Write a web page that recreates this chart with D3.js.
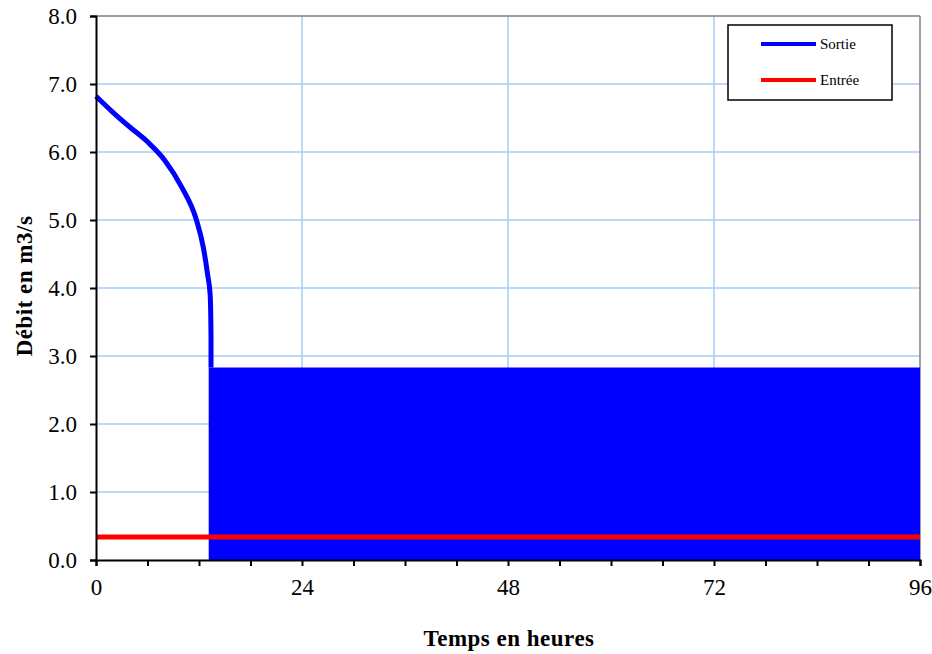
<!DOCTYPE html>
<html>
<head>
<meta charset="utf-8">
<script src="https://cdn.jsdelivr.net/npm/d3@7"></script>
<style>
  html, body { margin: 0; padding: 0; background: #fff; }
  svg { display: block; }
  svg text { font-family: "Liberation Serif", "Times New Roman", Times, serif !important; }
</style>
</head>
<body>
<svg id="chart" width="932" height="654"></svg>
<script>
// ---- Data ----
const xTicks = [0, 24, 48, 72, 96];
const xMinorTicks = [0, 6, 12, 18, 24, 30, 36, 42, 48, 54, 60, 66, 72, 78, 84, 90, 96];
const yTicks = [0, 1, 2, 3, 4, 5, 6, 7, 8];

// Sortie: initial decreasing discharge
const sortieHours  = [0, 2, 4, 6, 8, 10, 11.7, 12.5, 13.0, 13.3, 13.4, 13.4];
const sortieValues = [6.82, 6.58, 6.36, 6.15, 5.88, 5.48, 5.0, 4.6, 4.2, 3.9, 3.3, 2.83];

// Sortie afterwards: dense oscillation between a low and a high value (envelope)
const oscHours = [13.13, 96];
const oscLow   = [0, 0];
const oscHigh  = [2.83, 2.83];

// Entrée: constant inflow
const entreeHours  = [0, 96];
const entreeValues = [0.34, 0.34];

const seriesNames = ["Sortie", "Entrée"];
const seriesColors = ["#0000ff", "#ff0000"];

// ---- Layout ----
const svg = d3.select("#chart");
const mLeft = 96, mRight = 920, mTop = 16, mBottom = 560;

const x = d3.scaleLinear().domain([0, 96]).range([mLeft, mRight]);
const y = d3.scaleLinear().domain([0, 8]).range([mBottom, mTop]);

// grid
const grid = svg.append("g");
grid.selectAll("line.h").data(yTicks.filter(d => d > 0 && d < 8)).enter().append("line")
  .attr("x1", mLeft).attr("x2", mRight)
  .attr("y1", d => y(d)).attr("y2", d => y(d))
  .attr("stroke", "#a6cdf5").attr("stroke-width", 1.5);
grid.selectAll("line.v").data(xTicks.filter(d => d > 0 && d < 96)).enter().append("line")
  .attr("y1", mTop).attr("y2", mBottom)
  .attr("x1", d => x(d)).attr("x2", d => x(d))
  .attr("stroke", "#a6cdf5").attr("stroke-width", 1.5);

// plot border top/right
svg.append("line").attr("x1", mLeft).attr("x2", mRight).attr("y1", mTop).attr("y2", mTop)
  .attr("stroke", "#808080").attr("stroke-width", 1.5);
svg.append("line").attr("x1", mRight).attr("x2", mRight).attr("y1", mTop).attr("y2", mBottom)
  .attr("stroke", "#808080").attr("stroke-width", 1.5);

// oscillation envelope
const oscData = oscHours.map((h, i) => ({h, lo: oscLow[i], hi: oscHigh[i]}));
svg.append("path").datum(oscData)
  .attr("d", d3.area().x(d => x(d.h)).y0(d => y(d.lo)).y1(d => y(d.hi)))
  .attr("fill", seriesColors[0]);

// Sortie line
const sortieData = sortieHours.map((h, i) => ({h, v: sortieValues[i]}));
svg.append("path").datum(sortieData)
  .attr("d", d3.line().curve(d3.curveMonotoneX).x(d => x(d.h)).y(d => y(d.v)))
  .attr("fill", "none").attr("stroke", seriesColors[0]).attr("stroke-width", 5)
  .attr("stroke-linejoin", "round");

// Entrée line
const entreeData = entreeHours.map((h, i) => ({h, v: entreeValues[i]}));
svg.append("path").datum(entreeData)
  .attr("d", d3.line().x(d => x(d.h)).y(d => y(d.v)))
  .attr("fill", "none").attr("stroke", seriesColors[1]).attr("stroke-width", 5);

// axes
const yAxis = d3.axisLeft(y).tickValues(yTicks).tickFormat(d3.format(".1f")).tickSize(6).tickPadding(13);
const gy = svg.append("g").attr("transform", `translate(${mLeft},0)`).call(yAxis);
gy.select(".domain").attr("stroke", "#000").attr("stroke-width", 2);
gy.selectAll(".tick line").attr("stroke", "#000").attr("stroke-width", 2);
gy.selectAll(".tick text").attr("font-size", 23).attr("fill", "#000");

const xAxis = d3.axisBottom(x).tickValues(xMinorTicks)
  .tickFormat(d => xTicks.includes(d) ? d : "").tickSize(6).tickPadding(13);
const gx = svg.append("g").attr("transform", `translate(0,${mBottom})`).call(xAxis);
gx.select(".domain").attr("stroke", "#000").attr("stroke-width", 2);
gx.selectAll(".tick line").attr("stroke", "#000").attr("stroke-width", 2);
gx.selectAll(".tick text").attr("font-size", 23).attr("fill", "#000");

// axis titles
svg.append("text").attr("x", 509).attr("y", 646)
  .attr("text-anchor", "middle").attr("font-weight", "bold")
  .attr("font-size", 23).attr("letter-spacing", 0.5).text("Temps en heures");
svg.append("text").attr("transform", `translate(32,${(mTop + mBottom) / 2 - 2}) rotate(-90)`)
  .attr("text-anchor", "middle").attr("font-weight", "bold")
  .attr("font-size", 23).attr("letter-spacing", 0.5).text("Débit en m3/s");

// legend
const lg = svg.append("g");
lg.append("rect").attr("x", 728).attr("y", 25).attr("width", 164).attr("height", 75)
  .attr("fill", "#fff").attr("stroke", "#000").attr("stroke-width", 1.5);
seriesNames.forEach((name, i) => {
  const ly = 44 + i * 36;
  lg.append("line").attr("x1", 761).attr("x2", 816).attr("y1", ly).attr("y2", ly)
    .attr("stroke", seriesColors[i]).attr("stroke-width", 4);
  lg.append("text").attr("x", 820).attr("y", ly + 5)
    .attr("font-size", 15).attr("fill", "#000").text(name);
});
</script>
</body>
</html>
